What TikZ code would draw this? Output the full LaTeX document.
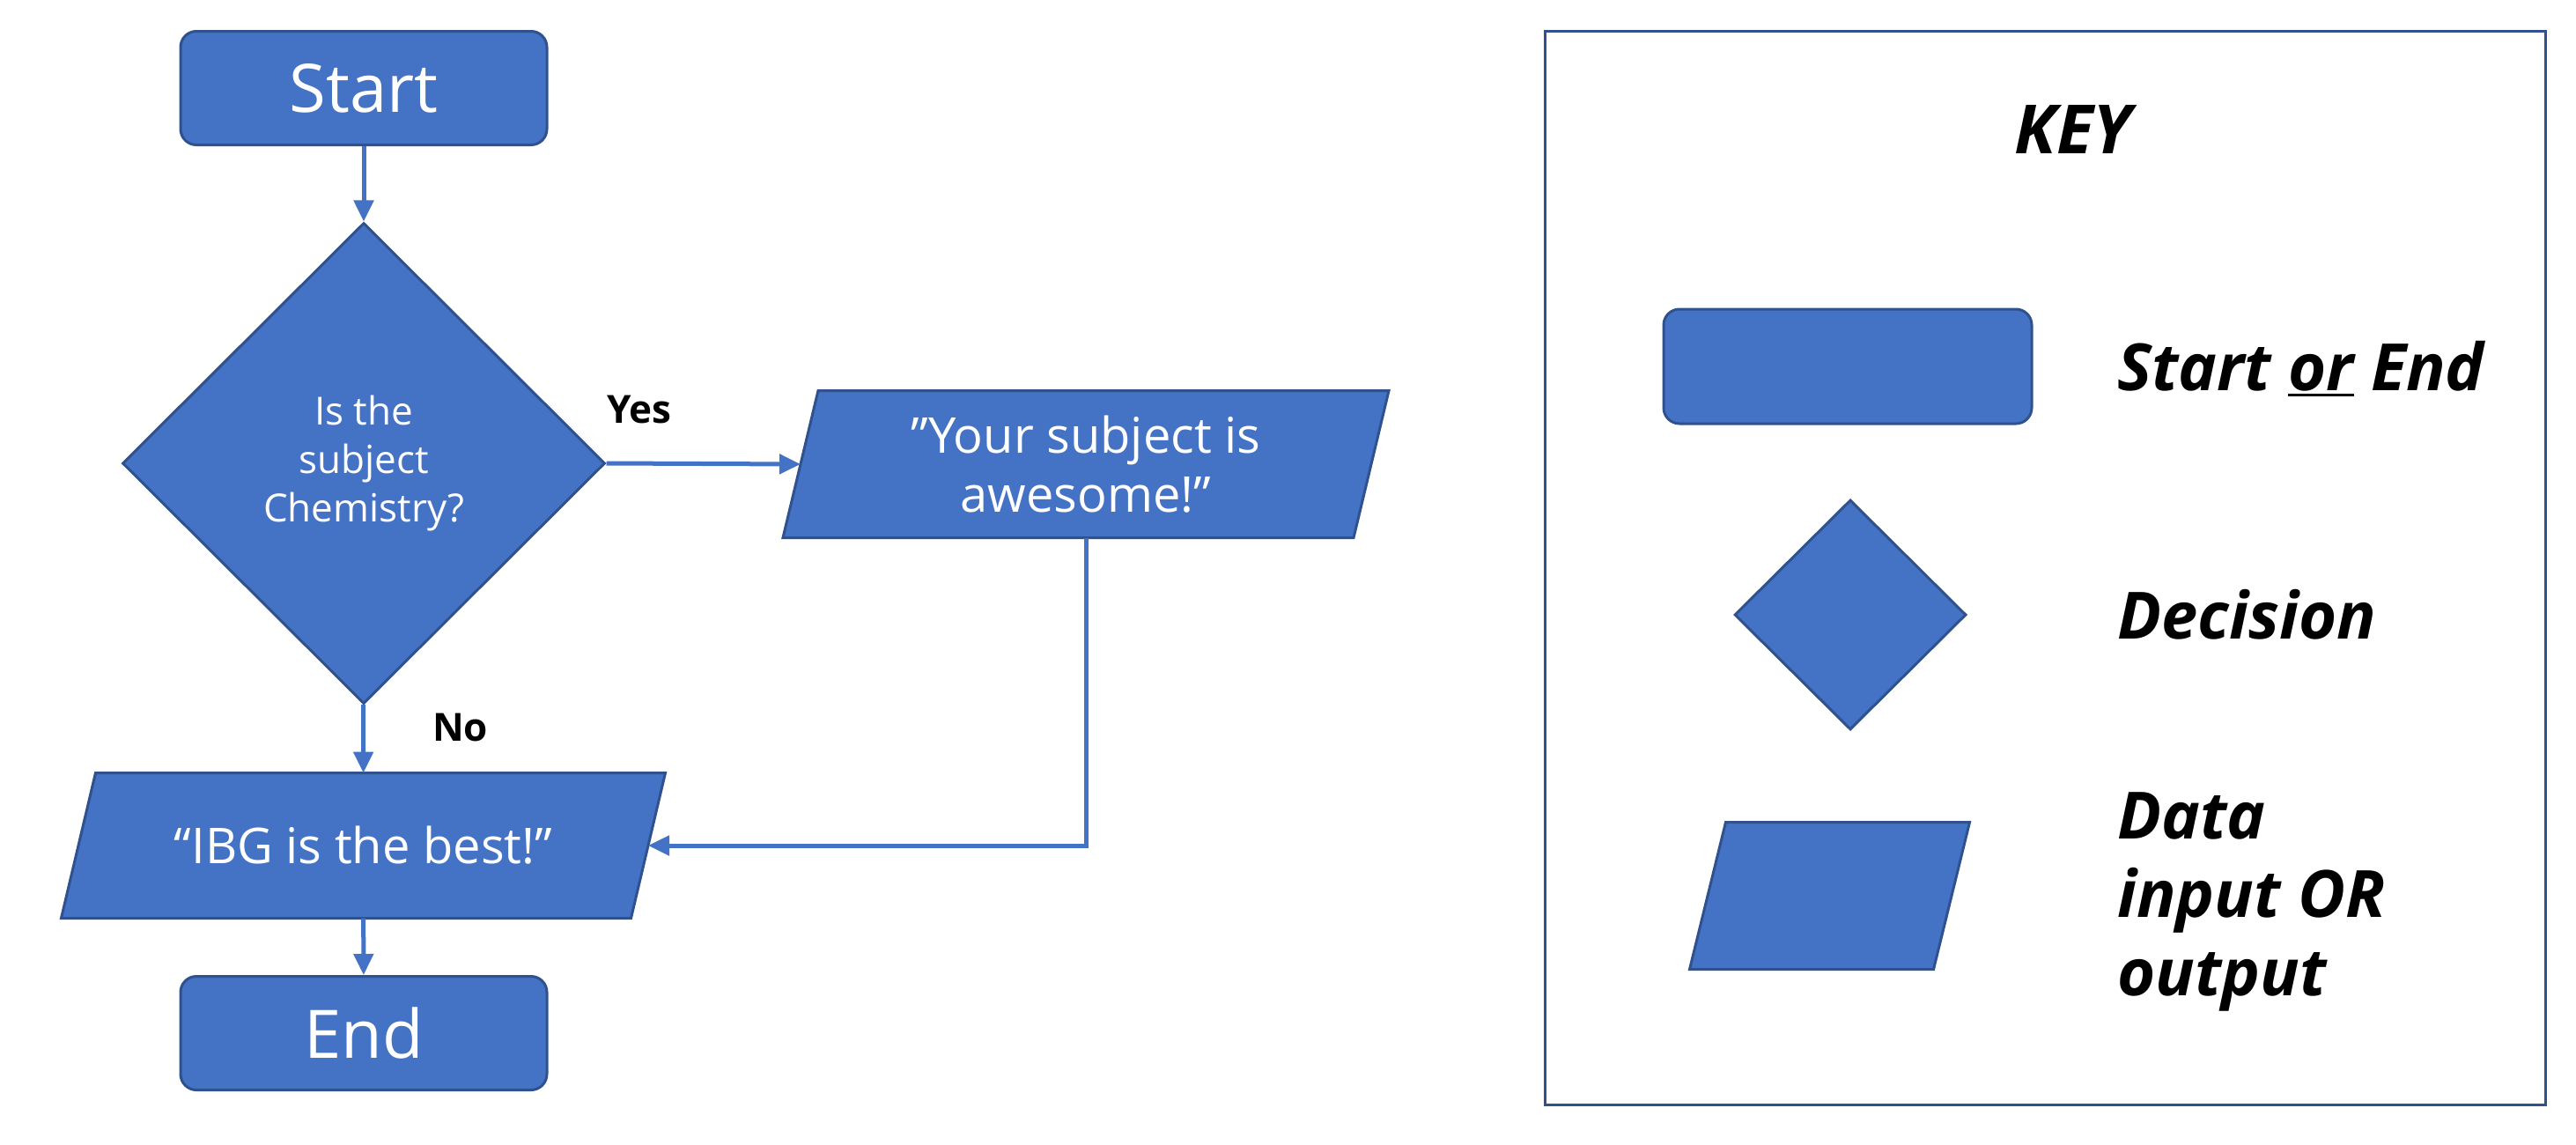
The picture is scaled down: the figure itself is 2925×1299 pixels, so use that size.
\documentclass[tikz,border=0pt]{standalone}
\usepackage{fontspec}
\setmainfont{Open Sans}
\usetikzlibrary{shapes.geometric,arrows.meta}
\definecolor{boxblue}{HTML}{4472C4}
\definecolor{edgeblue}{HTML}{2F528F}
\definecolor{lineblue}{HTML}{4472C4}
\newcommand\keyul[1]{\leavevmode\vtop{\hbox{#1}\kern3pt\hrule height 3pt}}
\pgfdeclarelayer{bg}
\pgfsetlayers{bg,main}
\begin{document}
\begin{tikzpicture}[x=1pt,y=-1pt,
  shapebase/.style={fill=boxblue,draw=edgeblue,line width=3pt,text=white,inner sep=0pt},
  term/.style={shapebase,rectangle,rounded corners=18pt,minimum width=416pt,minimum height=129pt,font=\fontsize{76}{91}\selectfont},
  decision/.style={shapebase,diamond,minimum width=548pt,minimum height=546pt,align=center,font=\fontsize{44}{55}\selectfont},
  iobox/.style={rectangle,text=white,inner sep=0pt,outer sep=1.5pt,minimum height=164pt,align=center,font=\fontsize{56}{67}\selectfont},
  paraface/.style={fill=boxblue,draw=edgeblue,line width=3pt,line join=miter},
  conn/.style={draw=lineblue,line width=5pt,-{Triangle[length=24pt,width=22pt]}},
  lab/.style={font=\fontsize{44}{53}\selectfont\bfseries,text=black,inner sep=0pt,anchor=base},
  keylab/.style={font=\fontsize{74}{89}\selectfont\bfseries\itshape,text=black,inner sep=0pt,anchor=base west,align=left},
]
\useasboundingbox (0,0) rectangle (2925,1299);

% flowchart
\node[term] (start) at (413,100) {Start};
\node[decision] (dec) at (413,526) {Is the\\subject\\Chemistry?};
\node[iobox,minimum width=645pt] (yes) at (1233,527) {”Your subject is\\awesome!”};
\node[iobox,minimum width=644pt,minimum height=162pt] (ibg) at (412.5,960) {“IBG is the best!”};
\node[term] (end) at (413,1173) {End};

\draw[conn] (start) -- (dec);
\draw[conn] (dec.east) -- node[lab,pos=0.17,yshift=46pt]{Yes} (yes.west);
\draw[conn] (dec) -- node[lab,pos=0.53,xshift=110pt]{No} (ibg);
\draw[conn] (ibg) -- (end);
\draw[conn] (yes.south) |- (ibg.east);

% key
\node[draw=edgeblue,line width=3pt,minimum width=1136pt,minimum height=1219pt,inner sep=0pt] (keybox) at (2322,645) {};
\node[font=\fontsize{77}{92}\selectfont\bfseries\itshape,anchor=base,inner sep=0pt] (keytitle) at (2354,174) {KEY};
\node[term,minimum width=418pt,minimum height=130pt] (kterm) at (2098,416) {};
\node[keylab] (kterml) at (2404,443) {Start \keyul{or} End};
\node[decision,minimum width=263pt,minimum height=261pt] (kdec) at (2101,698) {};
\node[keylab] (kdecl) at (2404,725) {Decision};
\node[iobox,minimum width=274pt] (kio) at (2077.5,1017) {};
\node[keylab,anchor=west] (kiol) at (2404,1024) {Data\\input OR\\output};

% parallelogram faces behind the data nodes
\begin{pgfonlayer}{bg}
\foreach \n/\s in {yes/20,ibg/19.5,kio/20.5}{
  \path[paraface] ([xshift=\s pt]\n.north west) -- ([xshift=\s pt]\n.north east)
     -- ([xshift=-\s pt]\n.south east) -- ([xshift=-\s pt]\n.south west) -- cycle;
}
\end{pgfonlayer}
\end{tikzpicture}
\end{document}
